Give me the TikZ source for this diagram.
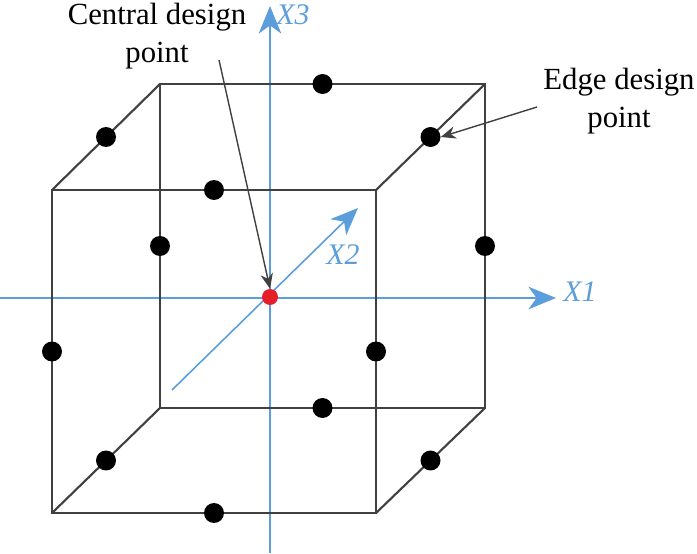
\documentclass[tikz,border=0pt]{standalone}
\usepackage{fontspec}
\setmainfont{Liberation Serif}
\usetikzlibrary{calc,arrows.meta}

\begin{document}
\begin{tikzpicture}[x=0.02cm,y=-0.02cm]

  \definecolor{axcol}{rgb}{0.36,0.62,0.86}
  \definecolor{edgecol}{rgb}{0.25,0.25,0.25}
  \definecolor{ctrcol}{rgb}{0.9,0.12,0.16}

  \tikzset{
    dot/.style={circle,fill=black,inner sep=0pt,minimum size=0.4cm},
    ctrdot/.style={circle,fill=ctrcol,inner sep=0pt,minimum size=0.32cm},
    axis/.style={axcol,line width=0.9pt,-{Stealth[length=0.55cm,width=0.45cm,inset=0.16cm]}},
    axlabel/.style={axcol,font=\fontsize{17}{20}\selectfont\itshape},
    note/.style={align=center,font=\fontsize{17.5}{21.5}\selectfont},
    pointer/.style={edgecol,line width=0.8pt,-{Stealth[length=0.3cm,width=0.25cm]}}
  }

  \useasboundingbox (0,0) rectangle (697,554);

  % cube corners
  \coordinate (fbl) at (52,513);
  \coordinate (fbr) at (376,513);
  \coordinate (ftr) at (376,190);
  \coordinate (ftl) at (52,190);
  \coordinate (bbl) at (160,408);
  \coordinate (bbr) at (485,408);
  \coordinate (btr) at (485,84);
  \coordinate (btl) at (160,84);

  % axes
  \coordinate (x1s) at (0,298);
  \coordinate (x1e) at (556,298);
  \coordinate (x3s) at (270,553);
  \coordinate (x3e) at (270,6);
  \coordinate (x2s) at (172,390);
  \coordinate (x2e) at (358,208);

  \draw[axis] (x1s) -- (x1e);
  \draw[axis] (x3s) -- (x3e);
  \draw[axis] (x2s) -- (x2e);

  \node[axlabel] (lx1) at (580,292) {X1};
  \node[axlabel] (lx2) at (343,255) {X2};
  \node[axlabel] (lx3) at (293,15) {X3};

  % cube
  \draw[edgecol,line width=1.2pt] (fbl) -- (fbr) -- (ftr) -- (ftl) -- cycle;
  \draw[edgecol,line width=1.2pt] (bbl) -- (bbr) -- (btr) -- (btl) -- cycle;
  \draw[edgecol,line width=1.2pt] (fbl) -- (bbl);
  \draw[edgecol,line width=1.2pt] (fbr) -- (bbr);
  \draw[edgecol,line width=1.2pt] (ftr) -- (btr);
  \draw[edgecol,line width=1.2pt] (ftl) -- (btl);

  % edge design points
  \node[dot] (e1) at ($(fbl)!0.5!(fbr)$) {};
  \node[dot] (e2) at ($(ftl)!0.5!(ftr)$) {};
  \node[dot] (e3) at ($(fbl)!0.5!(ftl)$) {};
  \node[dot] (e4) at ($(fbr)!0.5!(ftr)$) {};
  \node[dot] (e5) at ($(bbl)!0.5!(bbr)$) {};
  \node[dot] (e6) at ($(btl)!0.5!(btr)$) {};
  \node[dot] (e7) at ($(bbl)!0.5!(btl)$) {};
  \node[dot] (e8) at ($(bbr)!0.5!(btr)$) {};
  \node[dot] (e9) at ($(fbl)!0.5!(bbl)$) {};
  \node[dot] (e10) at ($(fbr)!0.5!(bbr)$) {};
  \node[dot] (e11) at ($(ftl)!0.5!(btl)$) {};
  \node[dot] (e12) at ($(ftr)!0.5!(btr)$) {};

  % central design point
  \node[ctrdot] (ctr) at (270,297) {};

  \node[note] (cnote) at (157,36) {Central design\\point};
  \node[note] (enote) at (619,101) {Edge design\\point};

  \coordinate (cfrom) at (219,60);
  \coordinate (efrom) at (537,107);
  \draw[pointer] (cfrom) -- (ctr.north);
  \draw[pointer] (efrom) -- (e12.east);

\end{tikzpicture}
\end{document}
